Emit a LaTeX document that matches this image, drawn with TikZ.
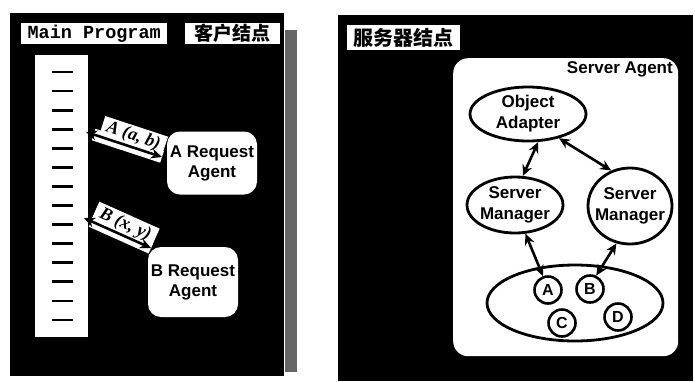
\documentclass[tikz,border=0pt]{standalone}
\usepackage{fontspec}
\setmainfont{Liberation Sans}
\newfontfamily\cjk{Noto Sans CJK SC}
\newfontfamily\monof{Liberation Mono}
\newfontfamily\seriff{Liberation Serif}
\usetikzlibrary{arrows.meta,calc,shapes.geometric}
\begin{document}
\begin{tikzpicture}[x=1pt,y=-1pt,
  panel/.style={fill=black, draw=none},
  tag/.style={fill=white, inner sep=0pt, minimum height=21pt, anchor=north west},
  agent/.style={fill=white, rounded corners=13pt, align=center, inner sep=0pt,
    font=\bfseries\fontsize{17}{20}\selectfont},
  ell/.style={ellipse, draw=black, line width=2.8pt, fill=white, inner sep=0pt},
  elltext/.style={font=\bfseries\fontsize{17}{21}\selectfont, align=center},
  obj/.style={circle, draw=black, line width=2.6pt, fill=white, inner sep=0pt,
    minimum size=27pt, font=\bfseries\fontsize{16}{16}\selectfont},
  dbl/.style={{Stealth[length=11pt,width=10pt]}-{Stealth[length=11pt,width=10pt]}, line width=2.6pt},
  argtext/.style={fill=white, inner sep=1pt, minimum width=66pt, minimum height=21pt,
    font=\seriff\bfseries\itshape\fontsize{18}{18}\selectfont},
  tick/.style={line width=2.8pt, black}
]
\useasboundingbox (0,0) rectangle (695,381);
\fill[white] (0,0) rectangle (695,381);

% ---------- left panel (client node) ----------
\fill[panel] (10,13) rectangle (284,376);
\fill[black!60] (285,30) rectangle (297,372);
\node[tag, minimum width=146pt, font=\monof\bfseries\fontsize{18.5}{18.5}\selectfont] (mp) at (21,23) {Main Program};
\node[tag, minimum width=95pt, font=\cjk\bfseries\fontsize{19}{19}\selectfont] (cn) at (185,23) {客户结点};

\node[fill=white, minimum width=53pt, minimum height=282pt, inner sep=0pt, anchor=north west] (col) at (35,55) {};
\foreach \i in {0,...,13} {
  \draw[tick] ($(col.north west)+(17,17+19.08*\i)$) -- ++(21,0);
}

\node[agent, minimum width=90pt, minimum height=63pt] (ra) at (212,163) {A Request\\Agent};
\node[agent, minimum width=90pt, minimum height=70pt] (rb) at (193,282) {B Request\\Agent};

\coordinate (mA) at (86,132);
\coordinate (aE) at (162,157);
\coordinate (mB) at (84,218);
\coordinate (bE) at (151,248);

\draw[white, line width=12pt, shorten <=8pt] (mA) -- (aE);
\path (mA) -- (aE) node[argtext, pos=0.58, sloped, anchor=south] (la) {A (a, b)};
\draw[dbl] (mA) -- (aE);

\draw[white, line width=12pt, shorten <=8pt] (mB) -- (bE);
\path (mB) -- (bE) node[argtext, pos=0.55, sloped, anchor=south] (lb) {B (x, y)};
\draw[dbl] (mB) -- (bE);

% ---------- right panel (server node) ----------
\fill[panel] (338,15) rectangle (693,381);
\node[tag, minimum width=113pt, minimum height=25pt, font=\cjk\bfseries\fontsize{20}{20}\selectfont] (sn) at (347,25) {服务器结点};

\node[fill=white, rounded corners=15pt, minimum width=225pt, minimum height=298pt, inner sep=0pt, anchor=north west] (sa) at (453,58) {};
\node[anchor=east, font=\bfseries\fontsize{17}{17}\selectfont, inner sep=0pt] (sat) at (673,69) {Server Agent};

\node[ell, minimum width=116pt, minimum height=54pt,
  label={[elltext]center:Object\\Adapter}] (oa) at (528,114) {};
\node[ell, minimum width=96pt, minimum height=56pt,
  label={[elltext]center:Server\\Manager}] (sm1) at (515,205) {};
\node[ell, minimum width=84pt, minimum height=76pt,
  label={[elltext]center:Server\\Manager}] (sm2) at (630,206) {};
\node[ell, minimum width=176pt, minimum height=76pt] (pool) at (575,303) {};

\node[obj] (oA) at (548,290) {A};
\node[obj] (oB) at (590,289) {B};
\node[obj] (oC) at (562,323) {C};
\node[obj] (oD) at (618,317) {D};

\draw[dbl] (oa.-70) -- (sm1.75);
\draw[dbl] (oa.-38) -- (sm2.118);
\draw[dbl] (sm1.-70) -- (oA.110);
\draw[dbl] (sm2.-110) -- (oB.65);
\end{tikzpicture}
\end{document}
